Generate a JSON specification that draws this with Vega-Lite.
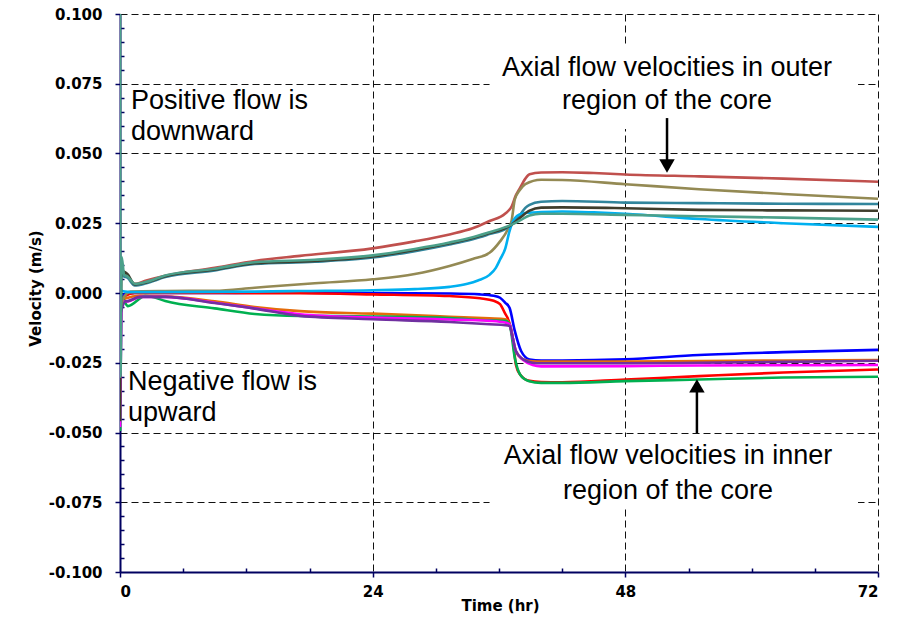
{
  "$schema": "https://vega.github.io/schema/vega-lite/v6.json",
  "width": 758,
  "height": 558,
  "autosize": {"type": "none"},
  "padding": {"left": 120, "top": 14, "right": 29, "bottom": 45},
  "background": "white",
  "config": {
    "view": {"stroke": null},
    "axis": {
      "labelFont": "DejaVu Sans",
      "labelFontWeight": "bold",
      "labelFontSize": 15,
      "labelColor": "black",
      "titleFont": "DejaVu Sans",
      "titleFontWeight": "bold",
      "titleFontSize": 15,
      "titleColor": "black",
      "domainColor": "#000060",
      "domainWidth": 2,
      "tickColor": "#000060",
      "tickWidth": 1.5,
      "gridColor": "#111111",
      "gridDash": [7, 4],
      "gridWidth": 1,
      "gridOpacity": 1
    }
  },
  "datasets": {
    "series": [
      {"s":"I1","t":0,"v":-0.002},{"s":"I1","t":0.5,"v":-0.0003},{"s":"I1","t":1.4,"v":0},{"s":"I1","t":4.3,"v":0},{"s":"I1","t":17.1,"v":0.0001},{"s":"I1","t":24,"v":0},{"s":"I1","t":31.3,"v":-0.0002},{"s":"I1","t":34.2,"v":-0.0005},{"s":"I1","t":35.5,"v":-0.001},{"s":"I1","t":36.1,"v":-0.0017},{"s":"I1","t":36.6,"v":-0.0035},{"s":"I1","t":37,"v":-0.0053},{"s":"I1","t":37.5,"v":-0.0136},{"s":"I1","t":38.1,"v":-0.0208},{"s":"I1","t":38.9,"v":-0.0238},{"s":"I1","t":40,"v":-0.0242},{"s":"I1","t":42,"v":-0.0242},{"s":"I1","t":48,"v":-0.0238},{"s":"I1","t":55,"v":-0.0222},{"s":"I1","t":63,"v":-0.0212},{"s":"I1","t":72,"v":-0.0204},

      {"s":"I2","t":0,"v":-0.003},{"s":"I2","t":0.5,"v":-0.001},{"s":"I2","t":1.4,"v":0},{"s":"I2","t":4.3,"v":0},{"s":"I2","t":17.1,"v":-0.0001},{"s":"I2","t":24,"v":-0.0005},{"s":"I2","t":31.3,"v":-0.0011},{"s":"I2","t":34.2,"v":-0.0019},{"s":"I2","t":35.5,"v":-0.0028},{"s":"I2","t":36.1,"v":-0.004},{"s":"I2","t":36.6,"v":-0.0075},{"s":"I2","t":36.8,"v":-0.0088},{"s":"I2","t":37.3,"v":-0.016},{"s":"I2","t":37.6,"v":-0.0256},{"s":"I2","t":38,"v":-0.0292},{"s":"I2","t":38.9,"v":-0.0315},{"s":"I2","t":40,"v":-0.0319},{"s":"I2","t":42,"v":-0.032},{"s":"I2","t":48,"v":-0.031},{"s":"I2","t":55,"v":-0.0298},{"s":"I2","t":63,"v":-0.0285},{"s":"I2","t":72,"v":-0.0274},

      {"s":"I3","t":0,"v":-0.006},{"s":"I3","t":0.5,"v":-0.002},{"s":"I3","t":1.9,"v":-0.001},{"s":"I3","t":4.3,"v":-0.0012},{"s":"I3","t":9,"v":-0.003},{"s":"I3","t":12.8,"v":-0.005},{"s":"I3","t":17.1,"v":-0.0065},{"s":"I3","t":24,"v":-0.0074},{"s":"I3","t":31.3,"v":-0.0085},{"s":"I3","t":35.1,"v":-0.0091},{"s":"I3","t":36.6,"v":-0.0094},{"s":"I3","t":37,"v":-0.011},{"s":"I3","t":37.3,"v":-0.016},{"s":"I3","t":37.6,"v":-0.0208},{"s":"I3","t":38.3,"v":-0.0238},{"s":"I3","t":39.2,"v":-0.0245},{"s":"I3","t":40,"v":-0.0246},{"s":"I3","t":48,"v":-0.0246},{"s":"I3","t":55,"v":-0.0244},{"s":"I3","t":63,"v":-0.0242},{"s":"I3","t":72,"v":-0.024},

      {"s":"I4","t":0,"v":-0.0495},{"s":"I4","t":0.2,"v":-0.002},{"s":"I4","t":0.75,"v":-0.0047},{"s":"I4","t":2.4,"v":-0.0011},{"s":"I4","t":3.2,"v":-0.0015},{"s":"I4","t":4.3,"v":-0.0029},{"s":"I4","t":9,"v":-0.0055},{"s":"I4","t":12.8,"v":-0.0075},{"s":"I4","t":17.1,"v":-0.0082},{"s":"I4","t":24,"v":-0.0084},{"s":"I4","t":31.3,"v":-0.009},{"s":"I4","t":35.1,"v":-0.0098},{"s":"I4","t":36.6,"v":-0.01},{"s":"I4","t":37,"v":-0.0112},{"s":"I4","t":37.5,"v":-0.0232},{"s":"I4","t":38,"v":-0.0292},{"s":"I4","t":38.8,"v":-0.0315},{"s":"I4","t":40,"v":-0.0322},{"s":"I4","t":42,"v":-0.0322},{"s":"I4","t":48,"v":-0.0316},{"s":"I4","t":55,"v":-0.031},{"s":"I4","t":63,"v":-0.0303},{"s":"I4","t":72,"v":-0.03},

      {"s":"I5","t":0,"v":-0.048},{"s":"I5","t":0.2,"v":-0.003},{"s":"I5","t":0.75,"v":-0.003},{"s":"I5","t":1.9,"v":-0.0014},{"s":"I5","t":4.3,"v":-0.0014},{"s":"I5","t":9,"v":-0.0035},{"s":"I5","t":12.8,"v":-0.0055},{"s":"I5","t":17.1,"v":-0.0076},{"s":"I5","t":24,"v":-0.0088},{"s":"I5","t":31.3,"v":-0.0095},{"s":"I5","t":35.1,"v":-0.01},{"s":"I5","t":36.6,"v":-0.0106},{"s":"I5","t":37,"v":-0.0112},{"s":"I5","t":37.3,"v":-0.016},{"s":"I5","t":37.6,"v":-0.0208},{"s":"I5","t":38.3,"v":-0.024},{"s":"I5","t":39.2,"v":-0.0258},{"s":"I5","t":40,"v":-0.0263},{"s":"I5","t":48,"v":-0.0262},{"s":"I5","t":55,"v":-0.026},{"s":"I5","t":63,"v":-0.0259},{"s":"I5","t":72,"v":-0.0258},

      {"s":"I6","t":0,"v":-0.008},{"s":"I6","t":0.5,"v":-0.003},{"s":"I6","t":0.75,"v":-0.0029},{"s":"I6","t":1.9,"v":-0.0014},{"s":"I6","t":4.3,"v":-0.0014},{"s":"I6","t":9,"v":-0.0036},{"s":"I6","t":12.8,"v":-0.0056},{"s":"I6","t":17.1,"v":-0.0082},{"s":"I6","t":24,"v":-0.0094},{"s":"I6","t":31.3,"v":-0.0104},{"s":"I6","t":35.1,"v":-0.0112},{"s":"I6","t":36.6,"v":-0.0115},{"s":"I6","t":37,"v":-0.0118},{"s":"I6","t":37.3,"v":-0.016},{"s":"I6","t":37.6,"v":-0.0208},{"s":"I6","t":38.3,"v":-0.0238},{"s":"I6","t":39.2,"v":-0.025},{"s":"I6","t":40,"v":-0.0252},{"s":"I6","t":48,"v":-0.0252},{"s":"I6","t":55,"v":-0.025},{"s":"I6","t":63,"v":-0.0247},{"s":"I6","t":72,"v":-0.0243},

      {"s":"O1","t":0,"v":0.012},{"s":"O1","t":0.3,"v":0.007},{"s":"O1","t":0.7,"v":0.006},{"s":"O1","t":1.4,"v":0.0033},{"s":"O1","t":2.5,"v":0.0045},{"s":"O1","t":4.3,"v":0.0062},{"s":"O1","t":9,"v":0.009},{"s":"O1","t":12.8,"v":0.0115},{"s":"O1","t":17.1,"v":0.0133},{"s":"O1","t":24,"v":0.016},{"s":"O1","t":28,"v":0.0185},{"s":"O1","t":31.3,"v":0.021},{"s":"O1","t":33.5,"v":0.0232},{"s":"O1","t":35.1,"v":0.0258},{"s":"O1","t":36.6,"v":0.0285},{"s":"O1","t":37.2,"v":0.031},{"s":"O1","t":37.6,"v":0.035},{"s":"O1","t":38,"v":0.0377},{"s":"O1","t":38.5,"v":0.041},{"s":"O1","t":38.9,"v":0.0426},{"s":"O1","t":40,"v":0.0432},{"s":"O1","t":42,"v":0.0433},{"s":"O1","t":45,"v":0.043},{"s":"O1","t":48,"v":0.0425},{"s":"O1","t":55,"v":0.0418},{"s":"O1","t":63,"v":0.041},{"s":"O1","t":72,"v":0.0399},

      {"s":"O2","t":0,"v":-0.006},{"s":"O2","t":0.3,"v":-0.002},{"s":"O2","t":1,"v":0.0005},{"s":"O2","t":4.3,"v":0.0007},{"s":"O2","t":9,"v":0.0008},{"s":"O2","t":12.8,"v":0.0019},{"s":"O2","t":18.5,"v":0.0035},{"s":"O2","t":24,"v":0.0049},{"s":"O2","t":28,"v":0.0068},{"s":"O2","t":31.3,"v":0.0097},{"s":"O2","t":33.5,"v":0.0122},{"s":"O2","t":35.1,"v":0.0144},{"s":"O2","t":36.1,"v":0.0185},{"s":"O2","t":36.8,"v":0.0225},{"s":"O2","t":37.2,"v":0.026},{"s":"O2","t":37.5,"v":0.0335},{"s":"O2","t":38,"v":0.037},{"s":"O2","t":38.5,"v":0.039},{"s":"O2","t":40,"v":0.0406},{"s":"O2","t":42,"v":0.0405},{"s":"O2","t":48,"v":0.039},{"s":"O2","t":55,"v":0.0372},{"s":"O2","t":63,"v":0.0355},{"s":"O2","t":72,"v":0.0338},

      {"s":"O3","t":0,"v":0.01},{"s":"O3","t":0.3,"v":0.006},{"s":"O3","t":0.7,"v":0.0055},{"s":"O3","t":1.4,"v":0.0027},{"s":"O3","t":2.5,"v":0.0035},{"s":"O3","t":4.3,"v":0.0057},{"s":"O3","t":9,"v":0.0081},{"s":"O3","t":12.8,"v":0.0104},{"s":"O3","t":18.5,"v":0.0112},{"s":"O3","t":24,"v":0.0127},{"s":"O3","t":28,"v":0.015},{"s":"O3","t":31.3,"v":0.0174},{"s":"O3","t":33.5,"v":0.0193},{"s":"O3","t":35.1,"v":0.0211},{"s":"O3","t":36.6,"v":0.0229},{"s":"O3","t":37.2,"v":0.0245},{"s":"O3","t":38,"v":0.028},{"s":"O3","t":38.5,"v":0.0305},{"s":"O3","t":38.9,"v":0.0316},{"s":"O3","t":40,"v":0.0327},{"s":"O3","t":42,"v":0.033},{"s":"O3","t":48,"v":0.0324},{"s":"O3","t":55,"v":0.0322},{"s":"O3","t":63,"v":0.032},{"s":"O3","t":72,"v":0.0319},

      {"s":"O6","t":0,"v":0.001},{"s":"O6","t":0.5,"v":0.0005},{"s":"O6","t":1.4,"v":0.0003},{"s":"O6","t":4.3,"v":0.0003},{"s":"O6","t":12.8,"v":0.0005},{"s":"O6","t":17.1,"v":0.0007},{"s":"O6","t":24,"v":0.001},{"s":"O6","t":28,"v":0.0014},{"s":"O6","t":31.3,"v":0.0022},{"s":"O6","t":33,"v":0.0033},{"s":"O6","t":34,"v":0.0045},{"s":"O6","t":35.1,"v":0.0065},{"s":"O6","t":35.7,"v":0.009},{"s":"O6","t":36.1,"v":0.012},{"s":"O6","t":36.6,"v":0.016},{"s":"O6","t":37,"v":0.0222},{"s":"O6","t":37.4,"v":0.0262},{"s":"O6","t":37.7,"v":0.0276},{"s":"O6","t":38.3,"v":0.0285},{"s":"O6","t":38.9,"v":0.0288},{"s":"O6","t":40,"v":0.029},{"s":"O6","t":42,"v":0.0292},{"s":"O6","t":45,"v":0.0289},{"s":"O6","t":48,"v":0.0284},{"s":"O6","t":55,"v":0.0265},{"s":"O6","t":63,"v":0.025},{"s":"O6","t":72,"v":0.0237},

      {"s":"O4","t":0,"v":-0.046},{"s":"O4","t":0.15,"v":0.008},{"s":"O4","t":0.7,"v":0.0068},{"s":"O4","t":1.4,"v":0.0031},{"s":"O4","t":2.5,"v":0.0038},{"s":"O4","t":4.3,"v":0.006},{"s":"O4","t":9,"v":0.0084},{"s":"O4","t":12.8,"v":0.0107},{"s":"O4","t":18.5,"v":0.0115},{"s":"O4","t":24,"v":0.0131},{"s":"O4","t":28,"v":0.0154},{"s":"O4","t":31.3,"v":0.0178},{"s":"O4","t":33.5,"v":0.0197},{"s":"O4","t":35.1,"v":0.0215},{"s":"O4","t":36.6,"v":0.0233},{"s":"O4","t":37.2,"v":0.0245},{"s":"O4","t":38,"v":0.027},{"s":"O4","t":38.9,"v":0.0295},{"s":"O4","t":40,"v":0.0306},{"s":"O4","t":42,"v":0.0307},{"s":"O4","t":48,"v":0.0304},{"s":"O4","t":55,"v":0.0298},{"s":"O4","t":63,"v":0.0296},{"s":"O4","t":72,"v":0.0295},

      {"s":"O5","t":0,"v":0.12},{"s":"O5","t":0.05,"v":-0.03},{"s":"O5","t":0.15,"v":0.013},{"s":"O5","t":0.4,"v":0.0065},{"s":"O5","t":0.7,"v":0.006},{"s":"O5","t":1.4,"v":0.0033},{"s":"O5","t":2.5,"v":0.004},{"s":"O5","t":4.3,"v":0.0063},{"s":"O5","t":9,"v":0.0087},{"s":"O5","t":12.8,"v":0.011},{"s":"O5","t":18.5,"v":0.0119},{"s":"O5","t":24,"v":0.0135},{"s":"O5","t":28,"v":0.0158},{"s":"O5","t":31.3,"v":0.0181},{"s":"O5","t":33.5,"v":0.02},{"s":"O5","t":35.1,"v":0.0218},{"s":"O5","t":36.6,"v":0.0236},{"s":"O5","t":37.2,"v":0.0245},{"s":"O5","t":38,"v":0.026},{"s":"O5","t":38.9,"v":0.0278},{"s":"O5","t":40,"v":0.0284},{"s":"O5","t":42,"v":0.0284},{"s":"O5","t":48,"v":0.028},{"s":"O5","t":55,"v":0.0275},{"s":"O5","t":63,"v":0.027},{"s":"O5","t":72,"v":0.0263}
    ],
    "boxes": [
      {"t1": 35.1, "t2": 70.1, "v1": 0.0588, "v2": 0.0885},
      {"t1": 35.1, "t2": 70.1, "v1": -0.0763, "v2": -0.0516}
    ],
    "arrows": [
      {"t": 51.96, "v1": 0.0627, "v2": 0.0455, "dir": "down"},
      {"t": 54.8, "v1": -0.0502, "v2": -0.0333, "dir": "up"}
    ],
    "leftText": [
      {"t": 1.04, "v": 0.0688, "label": "Positive flow is"},
      {"t": 1.04, "v": 0.0577, "label": "downward"},
      {"t": 0.76, "v": -0.0319, "label": "Negative flow is"},
      {"t": 0.76, "v": -0.043, "label": "upward"}
    ],
    "centerText": [
      {"t": 51.96, "v": 0.0806, "label": "Axial flow velocities in outer"},
      {"t": 51.96, "v": 0.0688, "label": "region of the core"},
      {"t": 52.05, "v": -0.0584, "label": "Axial flow velocities in inner"},
      {"t": 52.05, "v": -0.071, "label": "region of the core"}
    ]
  },
  "resolve": {"axis": {"x": "independent", "y": "independent"}},
  "layer": [
    {
      "data": {"name": "boxes"},
      "mark": {"type": "rect", "fill": "white", "stroke": null},
      "encoding": {
        "x": {"field": "t1", "type": "quantitative", "scale": {"domain": [0, 72], "nice": false},
          "axis": {"orient": "bottom", "values": [6, 12, 18, 30, 36, 42, 54, 60, 66], "labels": false, "domain": false, "grid": false, "tickSize": -4, "title": null}},
        "x2": {"field": "t2"},
        "y": {"field": "v1", "type": "quantitative", "scale": {"domain": [-0.1, 0.1], "nice": false},
          "axis": {"orient": "left", "values": [-0.095, -0.09, -0.085, -0.08, -0.07, -0.065, -0.06, -0.055, -0.045, -0.04, -0.035, -0.03, -0.02, -0.015, -0.01, -0.005, 0.005, 0.01, 0.015, 0.02, 0.03, 0.035, 0.04, 0.045, 0.055, 0.06, 0.065, 0.07, 0.08, 0.085, 0.09, 0.095], "labels": false, "domain": false, "grid": false, "tickSize": -4, "title": null}},
        "y2": {"field": "v2"}
      }
    },
    {
      "data": {"name": "series"},
      "mark": {"type": "line", "strokeWidth": 2.6, "clip": true, "interpolate": "monotone"},
      "encoding": {
        "x": {"field": "t", "type": "quantitative", "scale": {"domain": [0, 72], "nice": false},
          "axis": {"orient": "bottom", "values": [0, 24, 48, 72], "format": "d", "tickSize": 5, "labelPadding": 7, "grid": true, "title": "Time (hr)", "titleX": 380, "titleY": 33, "titleBaseline": "middle", "titleAlign": "center"}},
        "y": {"field": "v", "type": "quantitative", "scale": {"domain": [-0.1, 0.1], "nice": false},
          "axis": {"orient": "left", "values": [-0.1, -0.075, -0.05, -0.025, 0, 0.025, 0.05, 0.075, 0.1], "labelExpr": "replace(format(datum.value, '.3f'), '\u2212', '-')", "tickSize": 5, "labelPadding": 13, "grid": true, "title": "Velocity (m/s)", "titleX": -85, "titleY": 274, "titleAngle": -90, "titleBaseline": "middle", "titleAlign": "center"}},
        "color": {"field": "s", "type": "nominal", "legend": null,
          "scale": {"domain": ["O1", "O2", "O3", "O4", "O5", "O6", "I1", "I2", "I3", "I4", "I5", "I6"],
            "range": ["#C0504D", "#948A54", "#31859C", "#3F3D2C", "#4BA08A", "#00B0F0", "#0000FF", "#FF0000", "#E46C0A", "#00B050", "#FF00FF", "#7030A0"]}}
      }
    },
    {
      "data": {"name": "arrows"},
      "mark": {"type": "rule", "color": "black", "strokeWidth": 2.5},
      "encoding": {
        "x": {"field": "t", "type": "quantitative", "axis": null},
        "y": {"field": "v1", "type": "quantitative", "axis": null},
        "y2": {"field": "v2"}
      }
    },
    {
      "data": {"name": "arrows"},
      "mark": {"type": "point", "filled": true, "color": "black", "opacity": 1, "size": 240},
      "encoding": {
        "x": {"field": "t", "type": "quantitative", "axis": null},
        "y": {"field": "v2", "type": "quantitative", "axis": null},
        "shape": {"field": "dir", "type": "nominal", "legend": null, "scale": {"domain": ["down", "up"], "range": ["triangle-down", "triangle-up"]}}
      }
    },
    {
      "data": {"name": "leftText"},
      "mark": {"type": "text", "font": "Liberation Sans", "fontSize": 27, "align": "left", "baseline": "middle", "color": "black"},
      "encoding": {
        "x": {"field": "t", "type": "quantitative", "axis": null},
        "y": {"field": "v", "type": "quantitative", "axis": null},
        "text": {"field": "label"}
      }
    },
    {
      "data": {"name": "centerText"},
      "mark": {"type": "text", "font": "Liberation Sans", "fontSize": 27, "align": "center", "baseline": "middle", "color": "black"},
      "encoding": {
        "x": {"field": "t", "type": "quantitative", "axis": null},
        "y": {"field": "v", "type": "quantitative", "axis": null},
        "text": {"field": "label"}
      }
    }
  ]
}
